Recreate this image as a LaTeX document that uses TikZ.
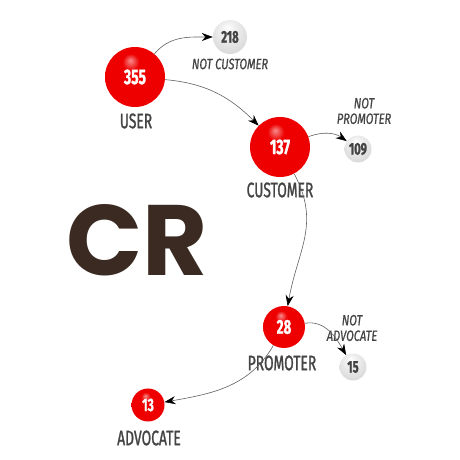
\documentclass[tikz,border=0pt]{standalone}
\usepackage{fontspec}
\usepackage{tikz}
\usetikzlibrary{arrows.meta,positioning}
\newfontfamily\condfont[FakeStretch=0.66,FakeBold=1.2]{Fira Sans}
\newfontfamily\notfont[FakeStretch=0.74,FakeBold=0.8]{Fira Sans}
\newfontfamily\crfont{Poppins}
\definecolor{ballred}{HTML}{EE0000}
\definecolor{labgray}{HTML}{444444}
\definecolor{crbrown}{HTML}{3A2A22}
\pgfdeclareradialshading{redglow}{\pgfpoint{-4bp}{14bp}}{%
  color(0bp)=(white!55!ballred); color(7bp)=(ballred); color(32bp)=(ballred);
  color(46bp)=(ballred!78!black); color(60bp)=(ballred!55!black)}
\pgfdeclareradialshading{greyglow}{\pgfpoint{-4bp}{14bp}}{%
  color(0bp)=(white); color(10bp)=(gray!12); color(32bp)=(gray!30);
  color(46bp)=(gray!50); color(60bp)=(gray!65)}
\tikzset{
  redball/.style={circle, shading=redglow, text=white, inner sep=0pt, font=\condfont\bfseries\fontsize{21}{21}\selectfont},
  greyball/.style={circle, shading=greyglow, text=labgray, inner sep=0pt, font=\condfont\bfseries\fontsize{17}{17}\selectfont},
  stagelab/.style={text=labgray, font=\condfont\fontsize{21}{21}\selectfont},
  notlab/.style={text=labgray, align=center, font=\notfont\itshape\fontsize{15}{15.5}\selectfont},
  farr/.style={-{Stealth[length=11pt,width=8pt,color=black]}, draw=gray!75!black, line width=0.6pt}
}

\begin{document}
\begin{tikzpicture}[x=1pt,y=1pt]
\useasboundingbox (0,0) rectangle (460,460);
\node[redball, minimum size=60pt] (user) at (135,383) {355};
\node[greyball, minimum size=34pt] (notcust) at (230,423) {218};
\node[redball, minimum size=60pt] (cust) at (280,313) {137};
\node[greyball, minimum size=27pt] (notprom) at (358,311) {109};
\node[redball, minimum size=42pt, font=\condfont\bfseries\fontsize{20}{20}\selectfont] (prom) at (284,133) {28};
\node[greyball, minimum size=27pt] (notadv) at (353,93) {15};
\node[redball, minimum size=33pt, font=\condfont\bfseries\fontsize{18}{18}\selectfont] (adv) at (148,55) {13};
% labels
\node[stagelab] (userlab) at (136,339) {USER};
\node[notlab] (notcustlab) at (230,396) {NOT CUSTOMER};
\node[stagelab] (custlab) at (280,270) {CUSTOMER};
\node[notlab] (notpromlab) at (364,349) {NOT\\PROMOTER};
\node[stagelab] (promlab) at (282,97) {PROMOTER};
\node[notlab] (notadvlab) at (352,132) {NOT\\ADVOCATE};
\node[stagelab] (advlab) at (149,22) {ADVOCATE};
\node[text=crbrown, font=\crfont\bfseries\fontsize{100}{100}\selectfont] (cr) at (137,220) {CR};
% flows
\draw[farr] (user) to[out=50,in=180] (notcust);
\draw[farr] (user) to[out=-5,in=135] (cust);
\draw[farr] (cust) to[out=20,in=145] (notprom);
\draw[farr] (cust) to[out=-62,in=80,looseness=1.1] (prom);
\draw[farr] (prom) to[out=10,in=120] (notadv);
\draw[farr] (prom) to[out=-120,in=10] (adv);
\end{tikzpicture}
\end{document}
